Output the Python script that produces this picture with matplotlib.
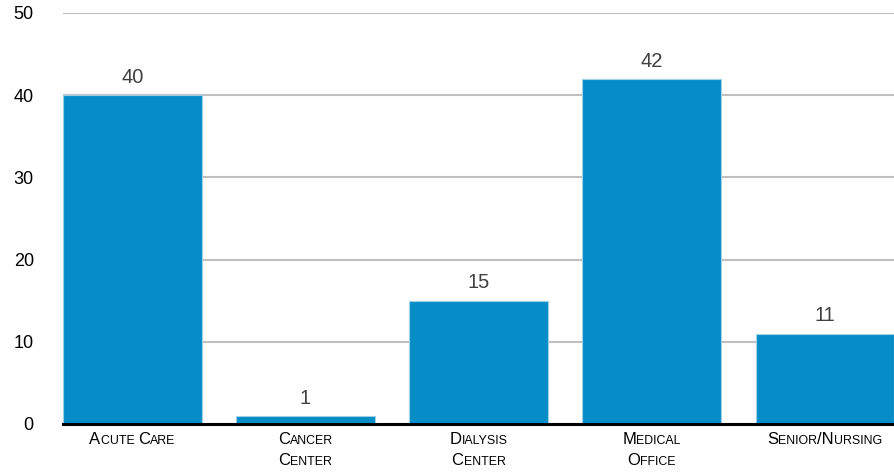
"""facility type counts bar chart"""

import matplotlib
matplotlib.use("Agg")
import matplotlib.pyplot as plt
from matplotlib.offsetbox import TextArea, HPacker, VPacker, AnnotationBbox

plt.rcParams['font.family'] = ['Liberation Sans', 'DejaVu Sans']

# data
categories = [["Acute Care"], ["Cancer", "Center"], ["Dialysis", "Center"],
              ["Medical", "Office"], ["Senior/Nursing"]]
counts = [40, 1, 15, 42, 11]
y_ticks = [0, 10, 20, 30, 40, 50]

BAR_COLOR = "#068dc7"
BIG = 12
SMALL = 8.9


def small_caps(line):
    """build a fake small caps line: capitals big, rest as smaller capitals"""
    parts = []
    buf = ""
    buf_big = None
    for ch in line:
        is_big = ch.isupper() or not ch.isalpha()
        if ch == " ":
            is_big = buf_big if buf_big is not None else True
        if buf_big is None or is_big == buf_big:
            buf += ch
        else:
            parts.append((buf, buf_big))
            buf = ch
        buf_big = is_big
    if buf:
        parts.append((buf, buf_big))
    areas = [TextArea(txt.upper(), textprops=dict(size=BIG if big else SMALL,
                                                  color="black"))
             for txt, big in parts]
    return HPacker(children=areas, align="baseline", pad=0, sep=0)


fig = plt.figure(figsize=(8.94, 4.74), dpi=100)
ax = fig.add_axes([0.0705, 0.1055, 0.9295, 0.8671])

x = list(range(len(counts)))
rects = ax.bar(x, counts, width=0.8, color=BAR_COLOR, edgecolor="#9fd0e8",
               linewidth=0.8, zorder=2)

for rect, val in zip(rects, counts):
    ax.text(rect.get_x() + rect.get_width() / 2, val + 1.0, str(val),
            ha="center", va="bottom", fontsize=14.5, color="#404040")

ax.set_xlim(-0.4, 4.4)
ax.set_ylim(0, 50)
ax.set_yticks(y_ticks)
ax.set_xticks([])
ax.tick_params(axis="y", length=0, labelsize=13, pad=21)
ax.yaxis.grid(True, color="#bfbfbf", linewidth=1.5, zorder=0)
for side in ["top", "right", "left"]:
    ax.spines[side].set_visible(False)
ax.spines["bottom"].set_linewidth(2.2)
ax.spines["bottom"].set_color("black")
ax.spines["bottom"].set_zorder(3)

# category labels
for i, lines in enumerate(categories):
    box = VPacker(children=[small_caps(l) for l in lines], align="center",
                  pad=0, sep=4)
    ab = AnnotationBbox(box, (i, 0), xycoords=("data", "axes fraction"),
                        xybox=(0, -6), boxcoords="offset points",
                        box_alignment=(0.5, 1), frameon=False,
                        annotation_clip=False)
    ax.add_artist(ab)

fig.savefig("out.png", dpi=100)
